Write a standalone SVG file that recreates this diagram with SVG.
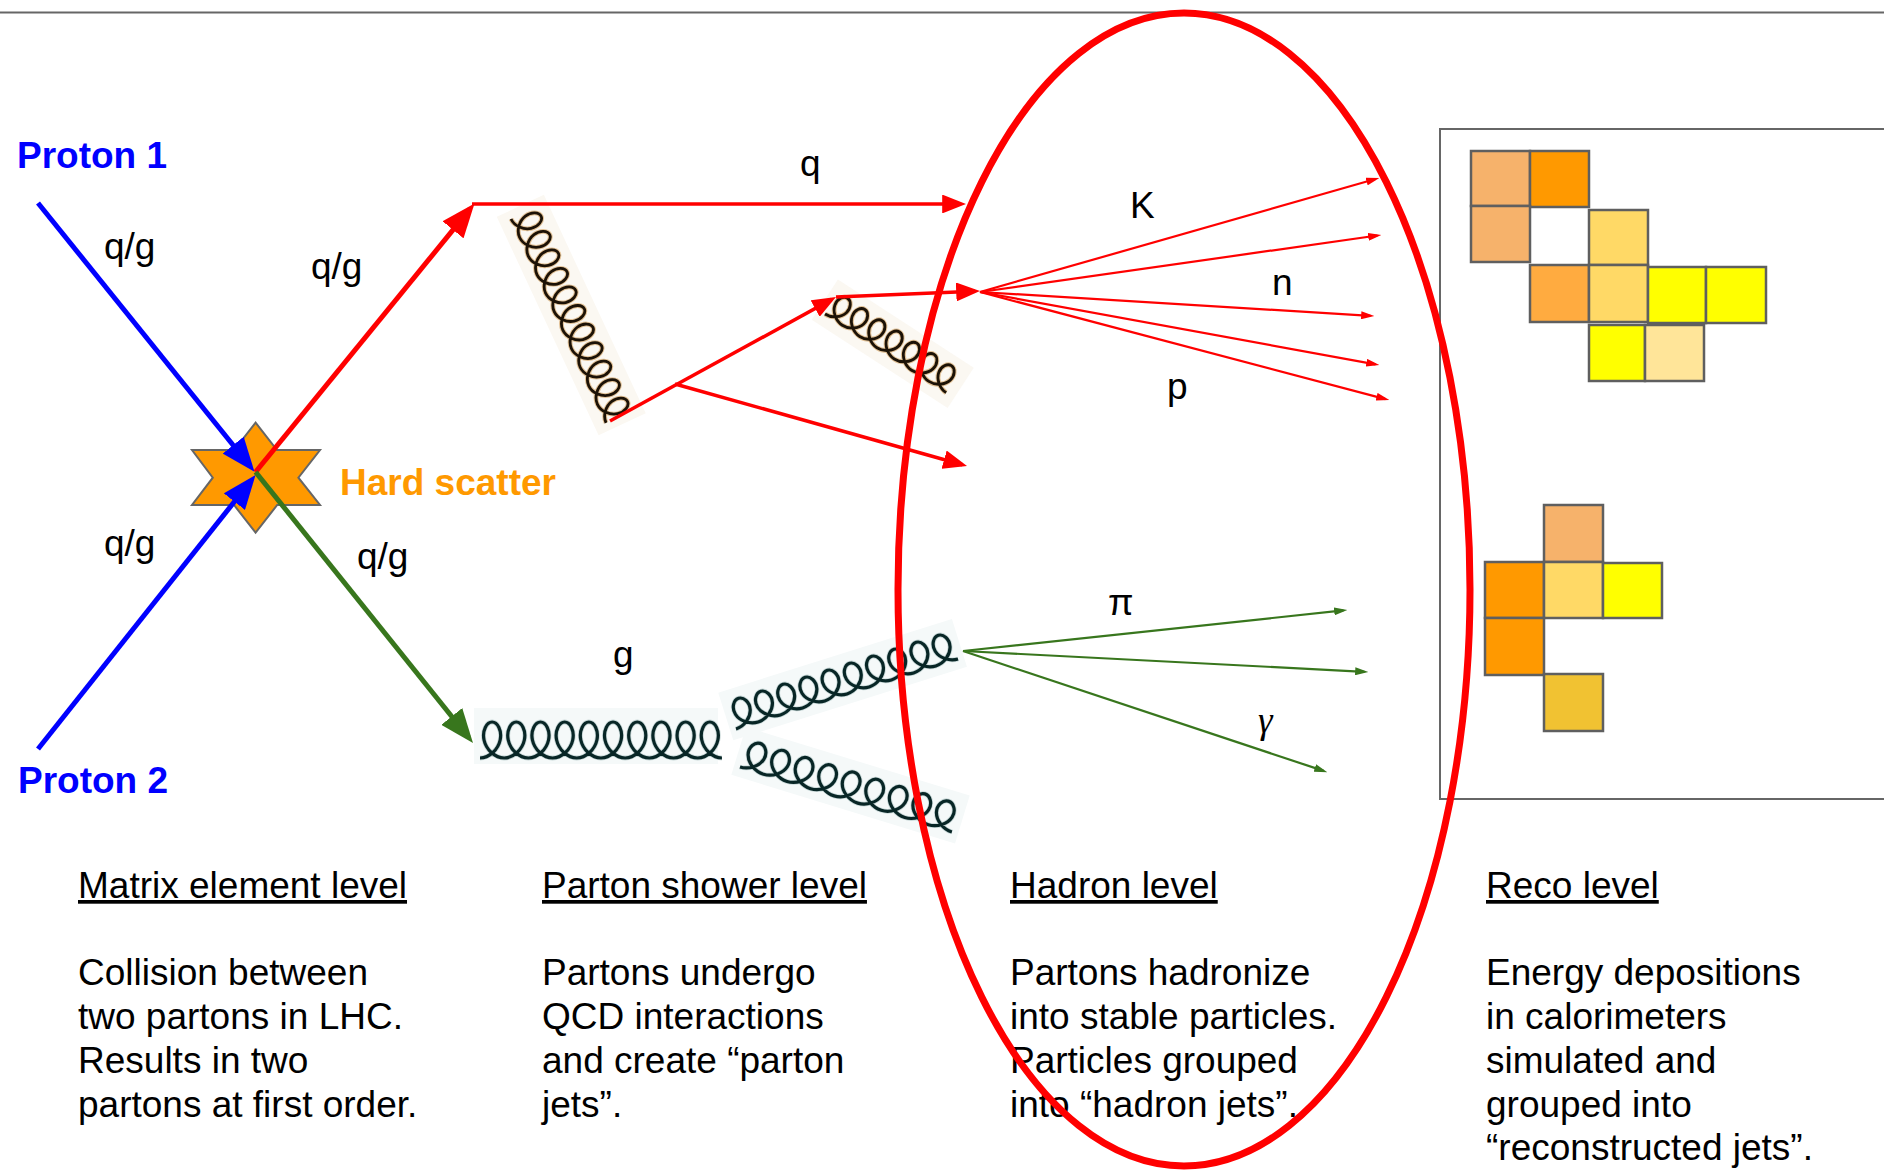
<svg xmlns="http://www.w3.org/2000/svg" width="1884" height="1171" viewBox="0 0 1884 1171">
  <style>
    text { font-family: "Liberation Sans", Arial, sans-serif; }
    .lbl { font-size: 37px; fill: #000; }
    .big { font-size: 37px; font-weight: bold; }
    .body { font-size: 37px; fill: #000; }
    .hdr { text-decoration: underline; }
    .cell { stroke: #5f5f5f; stroke-width: 2.5; }
    .thick { fill: none; stroke-width: 5; }
    .thin { fill: none; stroke-width: 3.5; }
    .fan { fill: none; stroke-width: 2.2; }
    .red { stroke: #ff0000; }
    .blue { stroke: #0000ff; }
    .green { stroke: #38761d; }
    .warm-bg { fill: #fbf8f2; }
    .cool-bg { fill: #f5f9f9; }
    .halo-b { fill: none; stroke: #c98b3c; stroke-width: 4.8; stroke-opacity: 0.5; }
    .core-b { fill: none; stroke: #1c1206; stroke-width: 2.8; }
    .halo-g { fill: none; stroke: #5f8c8c; stroke-width: 4.8; stroke-opacity: 0.3; }
    .core-g { fill: none; stroke: #082626; stroke-width: 3.2; }
  </style>
  <defs>
    <marker id="ah-red" viewBox="0 0 6.8 5.4" refX="5.4" refY="2.7" markerWidth="6.8" markerHeight="5.4" orient="auto" markerUnits="strokeWidth">
      <path d="M0,0 L6.8,2.7 L0,5.4 z" fill="#ff0000"/>
    </marker>
    <marker id="ah-blue" viewBox="0 0 6.8 5.4" refX="5.4" refY="2.7" markerWidth="6.8" markerHeight="5.4" orient="auto" markerUnits="strokeWidth">
      <path d="M0,0 L6.8,2.7 L0,5.4 z" fill="#0000ff"/>
    </marker>
    <marker id="ah-green" viewBox="0 0 6.8 5.4" refX="5.4" refY="2.7" markerWidth="6.8" markerHeight="5.4" orient="auto" markerUnits="strokeWidth">
      <path d="M0,0 L6.8,2.7 L0,5.4 z" fill="#38761d"/>
    </marker>
    <marker id="sh-red" viewBox="0 0 6 3.6" refX="4.2" refY="1.8" markerWidth="6" markerHeight="3.6" orient="auto" markerUnits="strokeWidth">
      <path d="M0,0 L6,1.8 L0,3.6 z" fill="#ff0000"/>
    </marker>
    <marker id="sh-green" viewBox="0 0 6 3.6" refX="4.2" refY="1.8" markerWidth="6" markerHeight="3.6" orient="auto" markerUnits="strokeWidth">
      <path d="M0,0 L6,1.8 L0,3.6 z" fill="#38761d"/>
    </marker>
    <!-- gluon coils: trochoid loops, period 24, height 30, along +x with loops towards -y -->
    <path id="coil7" vector-effect="non-scaling-stroke" d="M0,0c9.33,0 18,-7.15 20,-15 2,-7.85 -2.67,-15 -8,-15 -5.33,0 -10,7.15 -8,15 2,7.85 10.67,15 20,15 9.33,0 18,-7.15 20,-15 2,-7.85 -2.67,-15 -8,-15 -5.33,0 -10,7.15 -8,15 2,7.85 10.67,15 20,15 9.33,0 18,-7.15 20,-15 2,-7.85 -2.67,-15 -8,-15 -5.33,0 -10,7.15 -8,15 2,7.85 10.67,15 20,15 9.33,0 18,-7.15 20,-15 2,-7.85 -2.67,-15 -8,-15 -5.33,0 -10,7.15 -8,15 2,7.85 10.67,15 20,15 9.33,0 18,-7.15 20,-15 2,-7.85 -2.67,-15 -8,-15 -5.33,0 -10,7.15 -8,15 2,7.85 10.67,15 20,15 9.33,0 18,-7.15 20,-15 2,-7.85 -2.67,-15 -8,-15 -5.33,0 -10,7.15 -8,15 2,7.85 10.67,15 20,15 9.33,0 18,-7.15 20,-15 2,-7.85 -2.67,-15 -8,-15 -5.33,0 -10,7.15 -8,15 2,7.85 10.67,15 20,15"/>
    <path id="coil9" vector-effect="non-scaling-stroke" d="M0,0c9.33,0 18,-7.15 20,-15 2,-7.85 -2.67,-15 -8,-15 -5.33,0 -10,7.15 -8,15 2,7.85 10.67,15 20,15 9.33,0 18,-7.15 20,-15 2,-7.85 -2.67,-15 -8,-15 -5.33,0 -10,7.15 -8,15 2,7.85 10.67,15 20,15 9.33,0 18,-7.15 20,-15 2,-7.85 -2.67,-15 -8,-15 -5.33,0 -10,7.15 -8,15 2,7.85 10.67,15 20,15 9.33,0 18,-7.15 20,-15 2,-7.85 -2.67,-15 -8,-15 -5.33,0 -10,7.15 -8,15 2,7.85 10.67,15 20,15 9.33,0 18,-7.15 20,-15 2,-7.85 -2.67,-15 -8,-15 -5.33,0 -10,7.15 -8,15 2,7.85 10.67,15 20,15 9.33,0 18,-7.15 20,-15 2,-7.85 -2.67,-15 -8,-15 -5.33,0 -10,7.15 -8,15 2,7.85 10.67,15 20,15 9.33,0 18,-7.15 20,-15 2,-7.85 -2.67,-15 -8,-15 -5.33,0 -10,7.15 -8,15 2,7.85 10.67,15 20,15 9.33,0 18,-7.15 20,-15 2,-7.85 -2.67,-15 -8,-15 -5.33,0 -10,7.15 -8,15 2,7.85 10.67,15 20,15 9.33,0 18,-7.15 20,-15 2,-7.85 -2.67,-15 -8,-15 -5.33,0 -10,7.15 -8,15 2,7.85 10.67,15 20,15"/>
    <path id="coil10" vector-effect="non-scaling-stroke" d="M0,0c9.33,0 18,-7.15 20,-15 2,-7.85 -2.67,-15 -8,-15 -5.33,0 -10,7.15 -8,15 2,7.85 10.67,15 20,15 9.33,0 18,-7.15 20,-15 2,-7.85 -2.67,-15 -8,-15 -5.33,0 -10,7.15 -8,15 2,7.85 10.67,15 20,15 9.33,0 18,-7.15 20,-15 2,-7.85 -2.67,-15 -8,-15 -5.33,0 -10,7.15 -8,15 2,7.85 10.67,15 20,15 9.33,0 18,-7.15 20,-15 2,-7.85 -2.67,-15 -8,-15 -5.33,0 -10,7.15 -8,15 2,7.85 10.67,15 20,15 9.33,0 18,-7.15 20,-15 2,-7.85 -2.67,-15 -8,-15 -5.33,0 -10,7.15 -8,15 2,7.85 10.67,15 20,15 9.33,0 18,-7.15 20,-15 2,-7.85 -2.67,-15 -8,-15 -5.33,0 -10,7.15 -8,15 2,7.85 10.67,15 20,15 9.33,0 18,-7.15 20,-15 2,-7.85 -2.67,-15 -8,-15 -5.33,0 -10,7.15 -8,15 2,7.85 10.67,15 20,15 9.33,0 18,-7.15 20,-15 2,-7.85 -2.67,-15 -8,-15 -5.33,0 -10,7.15 -8,15 2,7.85 10.67,15 20,15 9.33,0 18,-7.15 20,-15 2,-7.85 -2.67,-15 -8,-15 -5.33,0 -10,7.15 -8,15 2,7.85 10.67,15 20,15 9.33,0 18,-7.15 20,-15 2,-7.85 -2.67,-15 -8,-15 -5.33,0 -10,7.15 -8,15 2,7.85 10.67,15 20,15"/>
    <path id="coil11" vector-effect="non-scaling-stroke" d="M0,0c9.33,0 18,-7.15 20,-15 2,-7.85 -2.67,-15 -8,-15 -5.33,0 -10,7.15 -8,15 2,7.85 10.67,15 20,15 9.33,0 18,-7.15 20,-15 2,-7.85 -2.67,-15 -8,-15 -5.33,0 -10,7.15 -8,15 2,7.85 10.67,15 20,15 9.33,0 18,-7.15 20,-15 2,-7.85 -2.67,-15 -8,-15 -5.33,0 -10,7.15 -8,15 2,7.85 10.67,15 20,15 9.33,0 18,-7.15 20,-15 2,-7.85 -2.67,-15 -8,-15 -5.33,0 -10,7.15 -8,15 2,7.85 10.67,15 20,15 9.33,0 18,-7.15 20,-15 2,-7.85 -2.67,-15 -8,-15 -5.33,0 -10,7.15 -8,15 2,7.85 10.67,15 20,15 9.33,0 18,-7.15 20,-15 2,-7.85 -2.67,-15 -8,-15 -5.33,0 -10,7.15 -8,15 2,7.85 10.67,15 20,15 9.33,0 18,-7.15 20,-15 2,-7.85 -2.67,-15 -8,-15 -5.33,0 -10,7.15 -8,15 2,7.85 10.67,15 20,15 9.33,0 18,-7.15 20,-15 2,-7.85 -2.67,-15 -8,-15 -5.33,0 -10,7.15 -8,15 2,7.85 10.67,15 20,15 9.33,0 18,-7.15 20,-15 2,-7.85 -2.67,-15 -8,-15 -5.33,0 -10,7.15 -8,15 2,7.85 10.67,15 20,15 9.33,0 18,-7.15 20,-15 2,-7.85 -2.67,-15 -8,-15 -5.33,0 -10,7.15 -8,15 2,7.85 10.67,15 20,15 9.33,0 18,-7.15 20,-15 2,-7.85 -2.67,-15 -8,-15 -5.33,0 -10,7.15 -8,15 2,7.85 10.67,15 20,15"/>
  </defs>

  <rect width="1884" height="1171" fill="#ffffff"/>
  <line x1="0" y1="12.5" x2="1884" y2="12.5" stroke="#666666" stroke-width="2"/>

  <!-- detector frame with calorimeter cells -->
  <g id="reco-frame">
    <rect x="1440" y="129" width="470" height="670" fill="none" stroke="#666666" stroke-width="2"/>
  </g>
  <g id="reco-jet-1">
    <rect class="cell" x="1471" y="151" width="59" height="55" fill="#f6b26b"/>
    <rect class="cell" x="1530" y="151" width="59" height="56" fill="#ff9900"/>
    <rect class="cell" x="1471" y="206" width="59" height="56" fill="#f6b26b"/>
    <rect class="cell" x="1589" y="210" width="59" height="55" fill="#ffd966"/>
    <rect class="cell" x="1530" y="265" width="59" height="57" fill="#ffab40"/>
    <rect class="cell" x="1589" y="265" width="59" height="57" fill="#ffd966"/>
    <rect class="cell" x="1648" y="267" width="58" height="56" fill="#ffff00"/>
    <rect class="cell" x="1706" y="267" width="60" height="56" fill="#ffff00"/>
    <rect class="cell" x="1589" y="325" width="56" height="56" fill="#ffff00"/>
    <rect class="cell" x="1645" y="325" width="59" height="56" fill="#ffe599"/>
  </g>
  <g id="reco-jet-2">
    <rect class="cell" x="1544" y="505" width="59" height="57" fill="#f6b26b"/>
    <rect class="cell" x="1485" y="562" width="59" height="56" fill="#ff9900"/>
    <rect class="cell" x="1544" y="562" width="59" height="56" fill="#ffd966"/>
    <rect class="cell" x="1603" y="563" width="59" height="55" fill="#ffff00"/>
    <rect class="cell" x="1485" y="618" width="59" height="57" fill="#ff9900"/>
    <rect class="cell" x="1544" y="674" width="59" height="57" fill="#f1c232"/>
  </g>

  <!-- hard scatter vertex -->
  <g id="hard-scatter">
    <polygon points="255.6,422.7 277,450 320,450 298.4,477.7 320,505 277.2,505 255.6,532.7 234,505 192,505 212.8,477.7 192,450 234.2,450" fill="#ff9900" stroke="#666666" stroke-width="2"/>
    <text class="big" x="340" y="495" fill="#ff9900">Hard scatter</text>
  </g>

  <!-- gluon emissions -->
  <g id="gluon-1" transform="translate(511,219) rotate(65)">
    <rect class="warm-bg" x="-8" y="-40" width="241" height="52"/>
    <use href="#coil11" class="halo-b" transform="scale(0.852,0.95)"/>
    <use href="#coil11" class="core-b" transform="scale(0.852,0.95)"/>
  </g>
  <g id="gluon-2" transform="translate(825,314) rotate(33)">
    <rect class="warm-bg" x="-8" y="-36" width="162" height="48"/>
    <use href="#coil7" class="halo-b" transform="scale(0.86,0.85)"/>
    <use href="#coil7" class="core-b" transform="scale(0.86,0.85)"/>
  </g>
  <g id="gluon-3" transform="translate(480,758)">
    <rect class="cool-bg" x="-6" y="-50" width="244" height="56"/>
    <use href="#coil10" class="halo-g" transform="scale(1.008,1.2)"/>
    <use href="#coil10" class="core-g" transform="scale(1.008,1.2)"/>
  </g>
  <g id="gluon-4" transform="translate(736,729) rotate(-17.5)">
    <rect class="cool-bg" x="-6" y="-40" width="245" height="50"/>
    <use href="#coil10" class="halo-g" transform="scale(0.97,0.95)"/>
    <use href="#coil10" class="core-g" transform="scale(0.97,0.95)"/>
  </g>
  <g id="gluon-5" transform="translate(740,767) rotate(17.05)">
    <rect class="cool-bg" x="-6" y="-40" width="234" height="50"/>
    <use href="#coil9" class="halo-g" transform="scale(1.026,0.95)"/>
    <use href="#coil9" class="core-g" transform="scale(1.026,0.95)"/>
  </g>

  <!-- particle lines -->
  <g id="connectors">
    <line class="thick blue" x1="38" y1="203" x2="250.1" y2="466.2" marker-end="url(#ah-blue)"/>
    <line class="thick blue" x1="38" y1="749" x2="251.2" y2="480.5" marker-end="url(#ah-blue)"/>
    <line class="thick red" x1="255.6" y1="472" x2="470.1" y2="208.9" marker-end="url(#ah-red)"/>
    <line class="thick green" x1="255.6" y1="472" x2="468.6" y2="737.5" marker-end="url(#ah-green)"/>
    <line class="thin red" x1="472" y1="204" x2="961.1" y2="204" marker-end="url(#ah-red)"/>
    <line class="thin red" x1="610" y1="421" x2="831.7" y2="299.4" marker-end="url(#ah-red)"/>
    <line class="thin red" x1="675" y1="384" x2="962.3" y2="464.7" marker-end="url(#ah-red)"/>
    <line class="thin red" x1="836" y1="297" x2="975.1" y2="291.2" marker-end="url(#ah-red)"/>
    <line class="fan red" x1="980" y1="292" x2="1375.5" y2="179" marker-end="url(#sh-red)"/>
    <line class="fan red" x1="980" y1="292" x2="1377.4" y2="235.5" marker-end="url(#sh-red)"/>
    <line class="fan red" x1="980" y1="292" x2="1370.4" y2="315.8" marker-end="url(#sh-red)"/>
    <line class="fan red" x1="980" y1="292" x2="1375.5" y2="364.4" marker-end="url(#sh-red)"/>
    <line class="fan red" x1="980" y1="292" x2="1385.5" y2="399.1" marker-end="url(#sh-red)"/>
    <line class="fan green" x1="963" y1="651" x2="1343.4" y2="610.4" marker-end="url(#sh-green)"/>
    <line class="fan green" x1="963" y1="651" x2="1364.4" y2="671.8" marker-end="url(#sh-green)"/>
    <line class="fan green" x1="963" y1="651" x2="1323.6" y2="770.9" marker-end="url(#sh-green)"/>
  </g>

  <!-- beam protons -->
  <g id="proton-1"><text class="big" x="17" y="168" fill="#0000ff">Proton 1</text></g>
  <g id="proton-2"><text class="big" x="18" y="793" fill="#0000ff">Proton 2</text></g>

  <!-- particle labels -->
  <g id="particle-labels" class="lbl">
    <text x="104" y="259">q/g</text>
    <text x="311" y="279">q/g</text>
    <text x="104" y="556">q/g</text>
    <text x="357" y="569">q/g</text>
    <text x="800" y="176">q</text>
    <text x="613" y="667">g</text>
    <text x="1130" y="218">K</text>
    <text x="1272" y="295">n</text>
    <text x="1167" y="399">p</text>
    <text x="1108" y="615">π</text>
    <text x="1258" y="733" style="font-family:'Liberation Serif','Times New Roman',serif;font-style:italic;font-size:37px">γ</text>
  </g>

  <!-- level descriptions -->
  <g id="matrix-element-level" class="body">
    <text class="hdr" x="78" y="898">Matrix element level</text>
    <text x="78" y="985">Collision between</text>
    <text x="78" y="1029">two partons in LHC.</text>
    <text x="78" y="1073">Results in two</text>
    <text x="78" y="1117">partons at first order.</text>
  </g>
  <g id="parton-shower-level" class="body">
    <text class="hdr" x="542" y="898">Parton shower level</text>
    <text x="542" y="985">Partons undergo</text>
    <text x="542" y="1029">QCD interactions</text>
    <text x="542" y="1073">and create “parton</text>
    <text x="542" y="1117">jets”.</text>
  </g>
  <g id="hadron-level" class="body">
    <text class="hdr" x="1010" y="898">Hadron level</text>
    <text x="1010" y="985">Partons hadronize</text>
    <text x="1010" y="1029">into stable particles.</text>
    <text x="1010" y="1073">Particles grouped</text>
    <text x="1010" y="1117">into “hadron jets”.</text>
  </g>
  <g id="reco-level" class="body">
    <text class="hdr" x="1486" y="898">Reco level</text>
    <text x="1486" y="985">Energy depositions</text>
    <text x="1486" y="1029">in calorimeters</text>
    <text x="1486" y="1073">simulated and</text>
    <text x="1486" y="1117">grouped into</text>
    <text x="1486" y="1160">“reconstructed jets”.</text>
  </g>

  <!-- hadronization region -->
  <g id="hadron-ellipse">
    <ellipse cx="1184" cy="589.5" rx="286" ry="576.5" fill="none" stroke="#ff0000" stroke-width="7"/>
  </g>
</svg>
